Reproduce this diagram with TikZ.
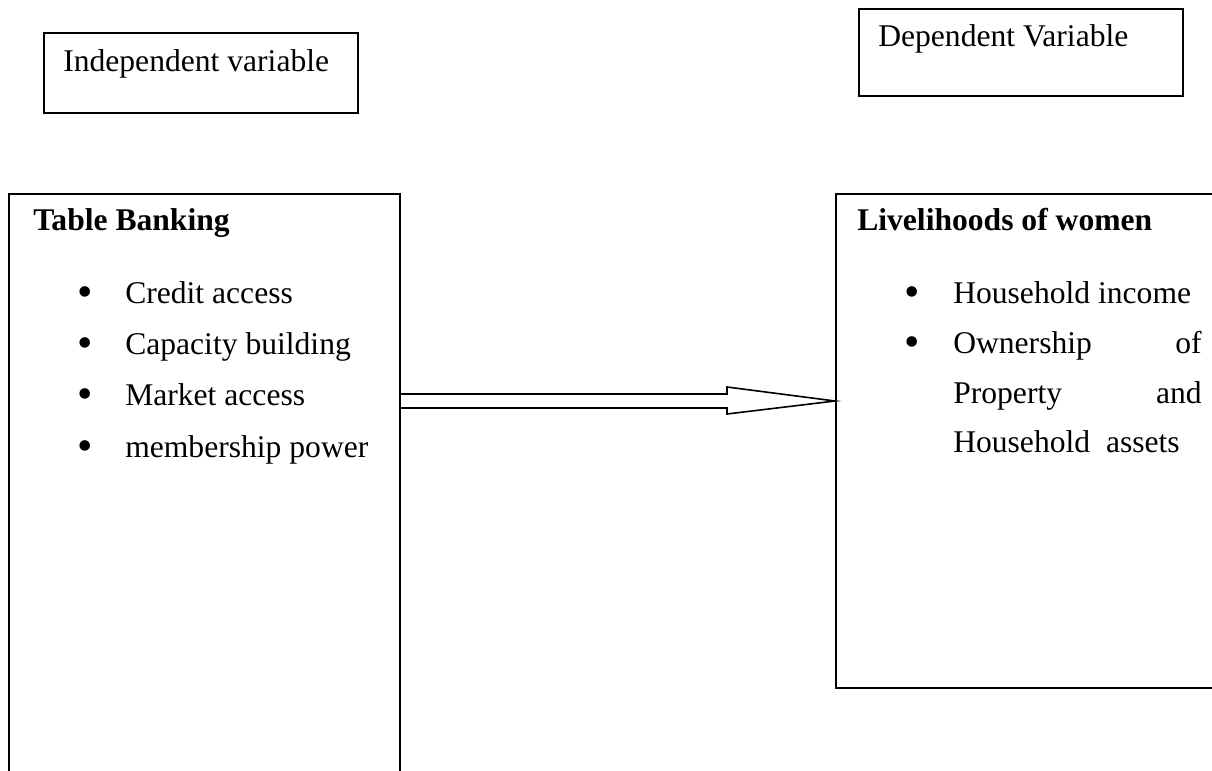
\documentclass[tikz,border=0pt]{standalone}
\usepackage{fontspec}
\setmainfont{Liberation Serif}
\usetikzlibrary{calc}
\begin{document}
\begin{tikzpicture}[x=0.75pt,y=-0.75pt,
  every node/.style={font=\fontsize{23.7pt}{28pt}\selectfont},
  box/.style={draw=black,line width=1.2pt,fill=none,inner sep=0pt,anchor=north west},
  txt/.style={anchor=base west,inner sep=0pt},
  txte/.style={anchor=base east,inner sep=0pt},
  bul/.style={anchor=base,inner sep=0pt,font=\fontsize{33pt}{33pt}\selectfont},
  arr/.style={draw=black,line width=1.2pt,line join=miter}]
\useasboundingbox (0,0) rectangle (1212,770);
% header boxes
\node[box,minimum width=314*0.75pt,minimum height=80*0.75pt] (ind) at (43,32) {};
\node[txt] (indt) at (63,72) {Independent variable};
\node[box,minimum width=324*0.75pt,minimum height=87*0.75pt] (dep) at (858,8) {};
\node[txt] (dept) at (878,47) {Dependent Variable};
% main boxes
\node[box,minimum width=391*0.75pt,minimum height=620*0.75pt] (tb) at (8,193) {};
\node[box,minimum width=420*0.75pt,minimum height=494*0.75pt] (lw) at (835,193) {};
% left content
\node[txt] (tbt) at (33,230) {\bfseries Table Banking};
\node[bul] (b1) at (85,306) {•};
\node[txt] (l1) at (125,303) {Credit access};
\node[bul] (b2) at (85,357) {•};
\node[txt] (l2) at (125,354) {Capacity building};
\node[bul] (b3) at (85,408) {•};
\node[txt] (l3) at (125,405) {Market access};
\node[bul] (b4) at (85,460) {•};
\node[txt] (l4) at (125,457) {membership power};
% right content
\node[txt] (lwt) at (857,230) {\bfseries Livelihoods of women};
\node[bul] (r1) at (912,306) {•};
\node[txt] (m1) at (953,303) {Household income};
\node[bul] (r2) at (912,356) {•};
\node[txt] (m2) at (953,353) {Ownership};
\node[txte] (m2b) at (1202,353) {of};
\node[txt] (m3) at (953,403) {Property};
\node[txte] (m3b) at (1202,403) {and};
\node[txt] (m4) at (953,452) {Household\ \ assets};
% arrow
\coordinate (a0) at (tb.east |- 0,401);
\coordinate (a1) at (lw.west |- 0,401);
\draw[arr] (a0) ++(0,-7) -- ($(a1)+(-108,-7)$) -- ($(a1)+(-108,-14)$) -- (a1)
  -- ($(a1)+(-108,13)$) -- ($(a1)+(-108,7)$) -- ($(a0)+(0,7)$);
\end{tikzpicture}
\end{document}
